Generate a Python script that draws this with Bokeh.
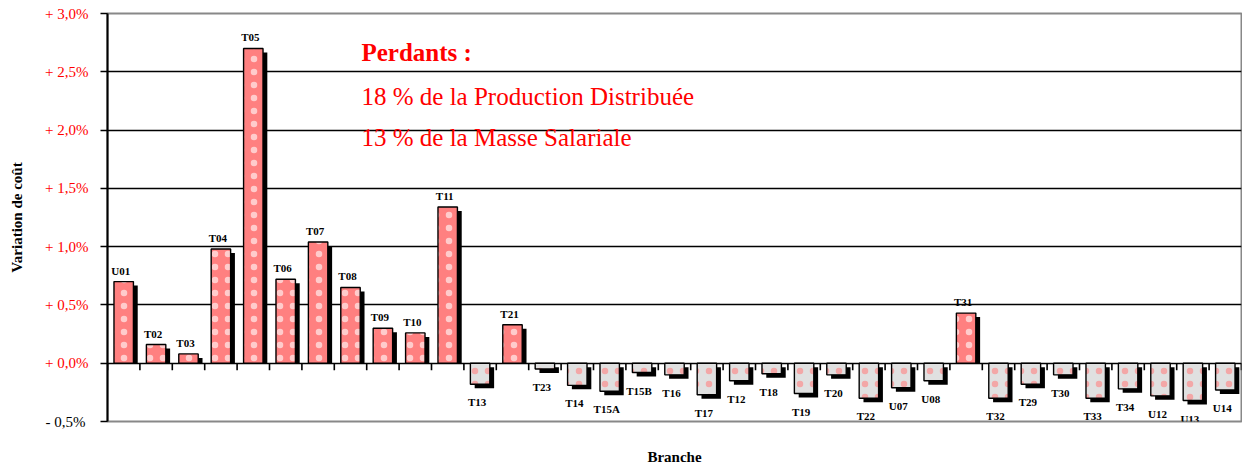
import numpy as np
from bokeh.plotting import figure
from bokeh.models import Range1d, FixedTicker, ColumnDataSource, Label, LinearAxis
from bokeh.embed import file_html
from bokeh.resources import INLINE
from bokeh.core.properties import value

# ---------------- data ----------------
branches = ["U01", "T02", "T03", "T04", "T05", "T06", "T07", "T08", "T09", "T10",
            "T11", "T13", "T21", "T23", "T14", "T15A", "T15B", "T16", "T17", "T12",
            "T18", "T19", "T20", "T22", "U07", "U08", "T31", "T32", "T29", "T30",
            "T33", "T34", "U12", "U13", "U14"]
variation = [0.70, 0.16, 0.08, 0.98, 2.70, 0.72, 1.04, 0.65, 0.30, 0.26,
             1.34, -0.18, 0.33, -0.05, -0.19, -0.24, -0.08, -0.10, -0.27, -0.15,
             -0.09, -0.26, -0.10, -0.30, -0.21, -0.15, 0.43, -0.30, -0.18, -0.10,
             -0.30, -0.22, -0.28, -0.32, -0.23]
y_ticks = [-0.5, 0.0, 0.5, 1.0, 1.5, 2.0, 2.5, 3.0]
y_tick_labels = ["- 0,5%", "+ 0,0%", "+ 0,5%", "+ 1,0%", "+ 1,5%", "+ 2,0%", "+ 2,5%", "+ 3,0%"]
note_title = "Perdants :"
note_lines = ["18 % de la Production Distribuée", "13 % de la Masse Salariale"]
y_title = "Variation de coût"
x_title = "Branche"

SERIF = value("Liberation Serif")
RED = "#FF0000"

n = len(branches)
v = np.array(variation)
x = np.arange(n) + 0.5
pos = v >= 0

W, H = 1242, 468
FL, FT, FR, FB = 107, 13, 1, 47
p = figure(width=W, height=H, output_backend="svg", toolbar_location=None,
           x_range=Range1d(0, n), y_range=Range1d(y_ticks[0], y_ticks[-1]),
           min_border_left=FL, min_border_right=FR, min_border_top=FT, min_border_bottom=FB)
p.background_fill_color = "white"
p.border_fill_color = "white"
p.outline_line_color = "#888888"
p.outline_line_width = 2

# pixel -> data conversions
px_x = n / float(W - FL - FR)
px_y = (y_ticks[-1] - y_ticks[0]) / float(H - FT - FB)

# grid
p.xgrid.visible = False
p.ygrid.ticker = FixedTicker(ticks=y_ticks[1:-1])
p.ygrid.grid_line_color = "black"
p.ygrid.grid_line_width = 1.6

# inner y axis: red labels for >= 0
LBL_SIZE = 15
yax = p.yaxis[0]
yax.ticker = FixedTicker(ticks=y_ticks)
yax.major_label_overrides = {t: (l if t >= 0 else " ") for t, l in zip(y_ticks, y_tick_labels)}
yax.major_label_text_font = "Liberation Serif"
yax.major_label_text_font_size = f"{LBL_SIZE}px"
yax.major_label_text_color = RED
yax.major_tick_out = 7
yax.major_tick_in = 0
yax.minor_tick_out = 0
yax.minor_tick_in = 0
yax.major_tick_line_color = "black"
yax.major_tick_line_width = 1.6
yax.axis_line_color = "black"
yax.axis_line_width = 2
yax.major_label_standoff = 12

# outer y axis: black label for the negative tick, and the title
label_w = 2.897 * LBL_SIZE  # width of "+ 3,0%" in Times metrics
yax2 = LinearAxis(ticker=FixedTicker(ticks=[y_ticks[0]]),
                  major_label_overrides={y_ticks[0]: y_tick_labels[0]})
yax2.axis_line_color = None
yax2.major_tick_line_color = None
yax2.minor_tick_line_color = None
yax2.major_tick_out = 0
yax2.major_tick_in = 0
yax2.minor_tick_out = 0
yax2.minor_tick_in = 0
yax2.major_label_standoff = -int(round(label_w))
yax2.major_label_text_font = "Liberation Serif"
yax2.major_label_text_font_size = f"{LBL_SIZE}px"
yax2.major_label_text_color = "black"
yax2.axis_label = y_title
yax2.axis_label_text_font = "Liberation Serif"
yax2.axis_label_text_font_style = "bold"
yax2.axis_label_text_font_size = "15px"
yax2.axis_label_text_color = "black"
yax2.axis_label_standoff = 18
p.add_layout(yax2, "left")

# x axis (title only)
xax = p.xaxis[0]
xax.ticker = FixedTicker(ticks=[])
xax.axis_line_color = None
xax.major_tick_line_color = None
xax.minor_tick_line_color = None
xax.axis_label = x_title
xax.axis_label_text_font = "Liberation Serif"
xax.axis_label_text_font_style = "bold"
xax.axis_label_text_font_size = "15px"
xax.axis_label_text_color = "black"
xax.axis_label_standoff = 27

# small ticks on the zero line between categories
bounds = np.arange(n + 1)
p.segment(x0=bounds, x1=bounds, y0=np.zeros(n + 1), y1=np.full(n + 1, -7 * px_y),
          line_color="black", line_width=1.6)

# shadows
dx, dy = 4.3 * px_x, 4 * px_y
sh_top = np.where(pos, v - dy, -dy)
sh_bot = np.where(pos, 0.0, v - dy)
p.vbar(x=x + dx, top=sh_top, bottom=sh_bot, width=0.6, fill_color="black", line_color=None)

# bars
src = ColumnDataSource(dict(
    x=x, top=v, bottom=np.zeros(n), name=branches,
    fill=np.where(pos, "#FF8080", "#E0E0E0"),
    hatch=np.where(pos, "#FFFFFF", "#FF8080"),
    ly=v,
    yoff=np.where(pos, -5, 12),
    base=np.where(pos, "bottom", "top"),
))
p.vbar(x="x", top="top", bottom="bottom", width=0.6, source=src,
       fill_color="fill", line_color="black", line_width=1.4,
       hatch_pattern="dot", hatch_color="hatch", hatch_scale=13,
       hatch_weight=0.2, hatch_alpha=0.6)

# labels
p.text(x="x", y="ly", text="name", source=src, x_offset=-3, y_offset="yoff",
       text_baseline="base", text_align="center", text_font=SERIF,
       text_font_style="bold", text_font_size="11px", text_color="black")

# annotation
note_x = 254 * px_x
p.add_layout(Label(x=note_x, y=y_ticks[-1] - 39 * px_y, text=note_title,
                   text_baseline="alphabetic", text_font="Liberation Serif",
                   text_font_style="bold", text_font_size="25px", text_color=RED))
for i, line in enumerate(note_lines):
    p.add_layout(Label(x=note_x, y=y_ticks[-1] - (83 + 41 * i) * px_y, text=line,
                       text_baseline="alphabetic", text_font="Liberation Serif",
                       text_font_size="25px", text_color=RED))

open("out.html", "w").write(file_html(p, INLINE))
